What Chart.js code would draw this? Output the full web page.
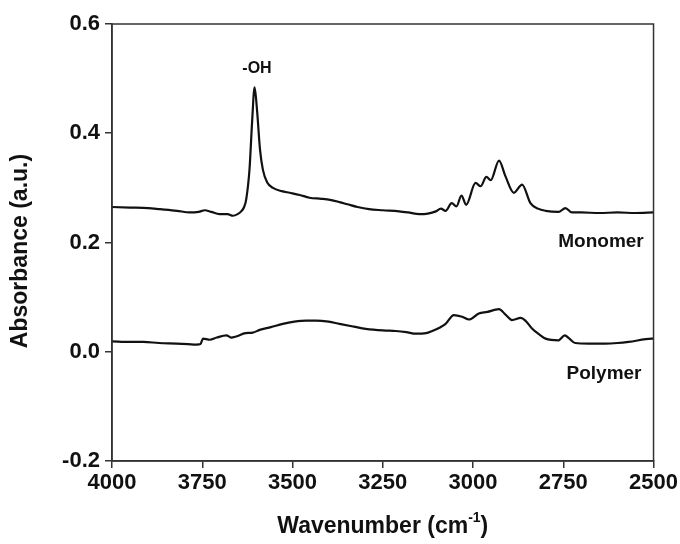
<!DOCTYPE html>
<html>
<head>
<meta charset="utf-8">
<script src="https://cdn.jsdelivr.net/npm/chart.js@4/dist/chart.umd.min.js"></script>
<style>
  html, body { margin: 0; padding: 0; background: #fff; }
  #wrap { width: 680px; height: 544px; }
</style>
</head>
<body>
<div id="wrap"><canvas id="irChart" width="680" height="544"></canvas></div>
<script>
// FTIR spectra (wavenumber in cm-1, absorbance in a.u.)
const monomerWavenumber = [4000, 3950, 3900, 3867, 3820, 3785, 3760, 3743, 3725, 3702, 3680, 3665, 3652, 3642, 3634, 3628, 3619, 3612, 3605, 3598, 3590, 3582, 3570, 3554, 3530, 3508, 3480, 3453, 3420, 3396, 3370, 3348, 3320, 3288, 3250, 3205, 3180, 3149, 3125, 3103, 3089, 3076, 3059, 3046, 3032, 3019, 2993, 2979, 2963, 2951, 2928, 2910, 2887, 2864, 2841, 2820, 2799, 2763, 2744, 2726, 2700, 2650, 2600, 2550, 2500];
const monomerAbsorbance = [0.265, 0.264, 0.263, 0.261, 0.258, 0.255, 0.256, 0.259, 0.256, 0.252, 0.252, 0.249, 0.252, 0.257, 0.265, 0.280, 0.335, 0.420, 0.484, 0.440, 0.370, 0.333, 0.310, 0.300, 0.294, 0.291, 0.287, 0.282, 0.280, 0.278, 0.274, 0.270, 0.265, 0.261, 0.259, 0.257, 0.255, 0.252, 0.253, 0.257, 0.262, 0.258, 0.272, 0.266, 0.286, 0.269, 0.309, 0.303, 0.320, 0.314, 0.350, 0.321, 0.291, 0.306, 0.272, 0.262, 0.258, 0.256, 0.263, 0.255, 0.255, 0.254, 0.255, 0.254, 0.255];

const polymerWavenumber = [4000, 3950, 3913, 3870, 3821, 3790, 3766, 3755, 3748, 3729, 3710, 3683, 3670, 3656, 3630, 3610, 3591, 3560, 3527, 3495, 3462, 3435, 3400, 3370, 3330, 3297, 3250, 3214, 3185, 3158, 3130, 3113, 3090, 3076, 3053, 3030, 3011, 2984, 2960, 2938, 2928, 2910, 2892, 2868, 2855, 2836, 2815, 2799, 2763, 2746, 2733, 2717, 2680, 2633, 2600, 2569, 2505, 2500];
const polymerAbsorbance = [0.019, 0.018, 0.018, 0.016, 0.015, 0.014, 0.013, 0.014, 0.024, 0.022, 0.026, 0.030, 0.026, 0.028, 0.034, 0.035, 0.040, 0.045, 0.051, 0.055, 0.057, 0.057, 0.055, 0.051, 0.046, 0.042, 0.039, 0.038, 0.036, 0.033, 0.034, 0.038, 0.045, 0.051, 0.067, 0.064, 0.059, 0.070, 0.073, 0.077, 0.078, 0.068, 0.058, 0.062, 0.057, 0.042, 0.031, 0.024, 0.021, 0.030, 0.024, 0.016, 0.015, 0.015, 0.016, 0.018, 0.024, 0.024];

const xTicks = [4000, 3750, 3500, 3250, 3000, 2750, 2500];
const yTicks = [-0.2, 0.0, 0.2, 0.4, 0.6];

const labels = [
    { text: '-OH', x: 257, y: 69, size: 16 },
    { text: 'Monomer', x: 601, y: 242, size: 19 },
    { text: 'Polymer', x: 604, y: 374, size: 19 }
];

const toPoints = (xs, ys) => xs.map((x, i) => ({ x: x, y: ys[i] }));

const FONT = "'Liberation Sans', Arial, sans-serif";

// frame, annotations and axis titles
const decorPlugin = {
    id: 'decor',
    afterDraw(chart) {
        const { ctx, chartArea } = chart;
        ctx.save();
        ctx.strokeStyle = '#333';
        ctx.lineWidth = 1.5;
        ctx.strokeRect(chartArea.left, chartArea.top, chartArea.right - chartArea.left, chartArea.bottom - chartArea.top);

        ctx.fillStyle = '#111';
        ctx.textAlign = 'center';
        ctx.textBaseline = 'middle';
        labels.forEach(l => {
            ctx.font = `bold ${l.size}px ${FONT}`;
            ctx.fillText(l.text, l.x, l.y);
        });

        // y title
        ctx.save();
        ctx.translate(21, 251);
        ctx.rotate(-Math.PI / 2);
        ctx.font = `bold 23px ${FONT}`;
        ctx.fillText('Absorbance (a.u.)', 0, 0);
        ctx.restore();

        // x title with superscript
        const main = 'Wavenumber (cm';
        const sup = '-1';
        const tail = ')';
        ctx.font = `bold 23px ${FONT}`;
        const wMain = ctx.measureText(main).width;
        const wTail = ctx.measureText(tail).width;
        ctx.font = `bold 14px ${FONT}`;
        const wSup = ctx.measureText(sup).width;
        const total = wMain + wSup + wTail;
        let x = (chartArea.left + chartArea.right) / 2 - total / 2;
        const y = 527;
        ctx.textAlign = 'left';
        ctx.font = `bold 23px ${FONT}`;
        ctx.fillText(main, x, y);
        x += wMain;
        ctx.font = `bold 14px ${FONT}`;
        ctx.fillText(sup, x, y - 9);
        x += wSup;
        ctx.font = `bold 23px ${FONT}`;
        ctx.fillText(tail, x, y);
        ctx.restore();
    }
};

new Chart(document.getElementById('irChart'), {
    type: 'line',
    data: {
        datasets: [
            {
                label: 'Monomer',
                data: toPoints(monomerWavenumber, monomerAbsorbance),
                borderColor: '#111',
                borderWidth: 2.2,
                pointRadius: 0,
                cubicInterpolationMode: 'monotone',
                fill: false
            },
            {
                label: 'Polymer',
                data: toPoints(polymerWavenumber, polymerAbsorbance),
                borderColor: '#111',
                borderWidth: 2.2,
                pointRadius: 0,
                cubicInterpolationMode: 'monotone',
                fill: false
            }
        ]
    },
    options: {
        responsive: false,
        animation: false,
        layout: { padding: { top: 24, right: 26, left: 0, bottom: 0 } },
        plugins: {
            legend: { display: false },
            tooltip: { enabled: false }
        },
        scales: {
            x: {
                type: 'linear',
                reverse: true,
                min: 2500,
                max: 4000,
                afterFit: (scale) => { scale.height = 83; },
                afterBuildTicks: (scale) => { scale.ticks = xTicks.map(v => ({ value: v })); },
                grid: { display: true, drawOnChartArea: false, drawTicks: true, tickLength: 7, color: '#333', lineWidth: 1.5 },
                border: { display: true, color: '#333', width: 1.5 },
                ticks: {
                    color: '#111',
                    padding: 2,
                    maxRotation: 0,
                    font: { family: FONT, size: 22, weight: 'bold' },
                    callback: (value) => String(value)
                }
            },
            y: {
                min: -0.2,
                max: 0.6,
                afterFit: (scale) => { scale.width = 112; },
                afterBuildTicks: (scale) => { scale.ticks = yTicks.map(v => ({ value: v })); },
                grid: { display: true, drawOnChartArea: false, drawTicks: true, tickLength: 7, color: '#333', lineWidth: 1.5 },
                border: { display: true, color: '#333', width: 1.5 },
                ticks: {
                    color: '#111',
                    padding: 5,
                    font: { family: FONT, size: 22, weight: 'bold' },
                    callback: (value) => Number(value).toFixed(1)
                }
            }
        }
    },
    plugins: [decorPlugin]
});
</script>
</body>
</html>
